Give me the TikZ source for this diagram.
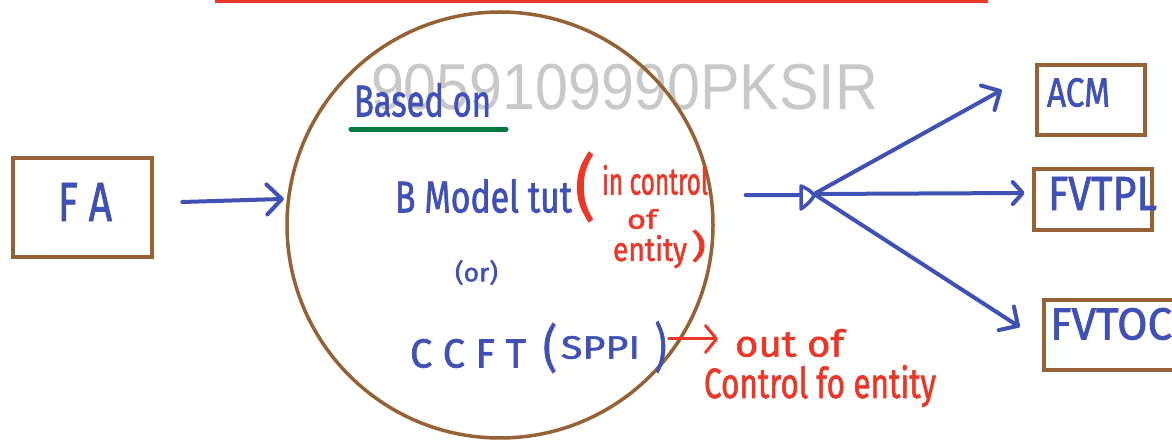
\documentclass[tikz,border=0pt]{standalone}
\usepackage{fontspec}
\setmainfont{Fira Sans}
\newfontfamily\inkfont{Fira Sans}[FakeBold=1.6]
\newfontfamily\markfont{Liberation Sans}
\usetikzlibrary{arrows.meta,calc}
\definecolor{inkblue}{RGB}{64,81,181}
\definecolor{inkred}{RGB}{235,55,40}
\definecolor{boxbrown}{RGB}{148,98,52}
\definecolor{inkgreen}{RGB}{0,122,62}
\definecolor{markgray}{RGB}{200,200,200}
% squeeze a piece of text into a box of given width and total height (pt)
\newcommand{\fitto}[3]{\resizebox*{#1pt}{#2pt}{\inkfont #3}}
\tikzset{
  hw/.style={inner sep=0pt, outer sep=0pt, anchor=center},
  boxnode/.style={draw=boxbrown, line width=4.5pt, rectangle, inner sep=0pt},
  blueline/.style={draw=inkblue, line width=4pt, line cap=round, line join=round},
  bluearrow/.style={blueline, -{Straight Barb[length=15pt,width=30pt,round]}},
  redarrow/.style={draw=inkred, line width=3pt, line cap=round,
    -{Straight Barb[length=11pt,width=27pt,round]}},
}
\begin{document}
\begin{tikzpicture}[x=1pt,y=-1pt]
\useasboundingbox (0,0) rectangle (1172,443);
\clip (0,0) rectangle (1172,443);
\fill[white] (0,0) rectangle (1172,443);

% top rule
\fill[inkred] (215,0) rectangle (988,3);

% watermark
\node[hw, text=markgray] (mark) at (624.5,87) {\resizebox*{507pt}{46pt}{\markfont 9059109990PKSIR}};

% main circle
\node[draw=boxbrown, line width=3.5pt, circle, minimum size=426pt, inner sep=0pt] (circ) at (500,225) {};

% boxes
\node[boxnode, minimum width=139pt, minimum height=99pt] (fa) at (82.5,207.5) {};
\node[boxnode, minimum width=108pt, minimum height=70pt] (acm) at (1091,100) {};
\node[boxnode, minimum width=118pt, minimum height=61pt] (fvtpl) at (1093,199.5) {};
\node[boxnode, minimum width=150pt, minimum height=70pt] (fvtoci) at (1119,335) {};

% box labels
\node[hw, text=inkblue] (fatxt) at (85,202) {\fitto{54}{38}{F A}};
\node[hw, text=inkblue] (acmtxt) at (1078.5,92.5) {\fitto{63}{29}{ACM}};
\node[hw, text=inkblue] (fvtpltxt) at (1102.5,193.5) {\fitto{109}{33}{FVTPL}};
\node[hw, text=inkblue] (fvtocitxt) at (1117.5,324) {\fitto{135}{32}{FVTOCI}};

% contents of the circle
\node[hw, text=inkblue] (based) at (422.5,100) {\fitto{137}{34}{Based on}};
\draw[inkgreen, line width=5pt, line cap=round] ($(based.south west)+(-3,12)$) -- ($(based.south east)+(15,12)$);
\node[hw, text=inkblue] (bmodel) at (483.5,196) {\fitto{177}{34}{B Model tut}};
\node[hw, text=inkred] (lparen1) at (585,187) {\fitto{20}{70}{(}};
\node[hw, text=inkred] (incontrol) at (655,180) {\fitto{106}{30}{in control}};
\node[hw, text=inkred] (ofword) at (642,219) {\fitto{30}{20}{of}};
\node[hw, text=inkred] (entity) at (650,251.5) {\fitto{74}{33}{entity}};
\node[hw, text=inkred] (rparen1) at (698.5,246) {\fitto{15}{32}{)}};
\node[hw, text=inkblue] (ortxt) at (476.5,272.5) {\fitto{43}{25}{(or)}};
\node[hw, text=inkblue] (ccft) at (468,353.5) {\fitto{116}{29}{C C F T}};
\node[hw, text=inkblue] (lparen2) at (550,348) {\fitto{14}{50}{(}};
\node[hw, text=inkblue] (sppi) at (600.5,347.5) {\fitto{79}{23}{SPPI}};
\node[hw, text=inkblue] (rparen2) at (660.5,347) {\fitto{12}{52}{)}};
\node[hw, text=inkred] (outof) at (789.5,343) {\fitto{109}{28}{out of}};
\node[hw, text=inkred] (outctrl) at (820,386) {\fitto{232}{42}{Control fo entity}};

% connectors
\draw[bluearrow, shorten >=3pt] ($(fa.east |- 0,202)+(28,0)$) -- (circ.173.8);
\draw[redarrow] ($(rparen2.east)+(2,-8)$) -- ($(outof.west)+(-17,-4)$);

\coordinate (fork) at (814,194);
\draw[blueline] ($(circ.8.1)+(33,0)$) -- ($(fork)+(-15,1)$);
\draw[blueline, line width=3.5pt] ($(fork)+(-13,-8)$) -- ($(fork)+(-13,15)$)
  .. controls ($(fork)+(-6,10)$) and ($(fork)+(-1,5)$) .. ($(fork)+(0,1)$)
  .. controls ($(fork)+(-3,-3)$) and ($(fork)+(-8,-6)$) .. cycle;
\draw[bluearrow, -{Straight Barb[length=14pt,width=28pt,round]}] (fork) -- ($(acm.west)+(-33,-10)$);
\draw[bluearrow, -{Straight Barb[length=10pt,width=22pt,round]}] (fork) -- ($(fvtpl.west)+(-7,-6.5)$);
\draw[bluearrow, -{Straight Barb[length=14pt,width=28pt,round]}] (fork) -- ($(fvtoci.west)+(-22,-8)$);
\end{tikzpicture}
\end{document}
